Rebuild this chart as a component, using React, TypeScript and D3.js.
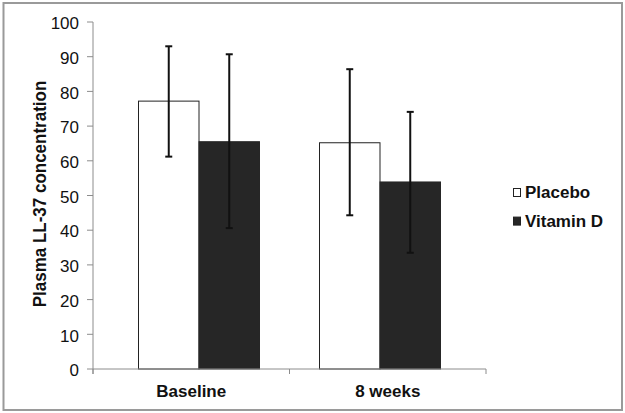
import React from "react";
import * as d3 from "d3";

const categories = ["Baseline", "8 weeks"];
const seriesNames = ["Placebo", "Vitamin D"];
const placeboMean = [77.2, 65.2];
const placeboLow = [61.2, 44.3];
const placeboHigh = [93.0, 86.4];
const vitdMean = [65.5, 53.9];
const vitdLow = [40.6, 33.5];
const vitdHigh = [90.7, 74.1];
const yTicks = [0, 10, 20, 30, 40, 50, 60, 70, 80, 90, 100];

const W = 625;
const H = 413;
const left = 93;
const right = 486;
const top = 22;
const bottom = 369;

export default function App() {
  const y = d3.scaleLinear().domain([0, 100]).range([bottom, top]);
  const xLabel = d3.scaleBand().domain(categories).range([left, right]).padding(0);
  const xGroup = d3
    .scaleBand()
    .domain(categories)
    .range([left, right])
    .paddingInner(0.3315)
    .paddingOuter(0.2514);
  const xSeries = d3.scaleBand().domain(seriesNames).range([0, xGroup.bandwidth()]).padding(0);
  const fills = ["#ffffff", "#262626"];
  const series = [
    { name: seriesNames[0], mean: placeboMean, low: placeboLow, high: placeboHigh },
    { name: seriesNames[1], mean: vitdMean, low: vitdLow, high: vitdHigh },
  ];
  const font = "Arial, 'Liberation Sans', sans-serif";
  const capW = 3.5;

  return (
    <div style={{ position: "fixed", left: 0, top: 0 }}>
      <svg width={W} height={H} style={{ display: "block", background: "#fff" }}>
        <rect x={3.5} y={3} width={618.5} height={407} fill="#fff" stroke="#9a9a9a" strokeWidth={2} />
        {/* y axis */}
        <line x1={left} x2={left} y1={top} y2={bottom + 5} stroke="#8c8c8c" strokeWidth={1} />
        {yTicks.map((t) => (
          <g key={t}>
            <line x1={left - 6} x2={left} y1={y(t)} y2={y(t)} stroke="#8c8c8c" strokeWidth={1} />
            <text
              transform={`translate(${left - 14},${y(t) + 7.2}) scale(1,0.95)`}
              textAnchor="end"
              fontFamily={font}
              fontSize={17}
              fill="#111"
            >
              {t}
            </text>
          </g>
        ))}
        {/* bars */}
        {series.map((s, si) =>
          categories.map((c, ci) => {
            const x0 = (xGroup(c) as number) + (xSeries(s.name) as number);
            const bw = xSeries.bandwidth();
            return (
              <rect
                key={s.name + c}
                x={x0}
                y={y(s.mean[ci])}
                width={bw}
                height={y(0) - y(s.mean[ci])}
                fill={fills[si]}
                stroke={si === 0 ? "#222" : "#262626"}
                strokeWidth={1}
              />
            );
          })
        )}
        {/* error bars */}
        {series.map((s) =>
          categories.map((c, ci) => {
            const cx = (xGroup(c) as number) + (xSeries(s.name) as number) + xSeries.bandwidth() / 2;
            return (
              <g key={"e" + s.name + c} stroke="#111" strokeWidth={2}>
                <line x1={cx} x2={cx} y1={y(s.high[ci])} y2={y(s.low[ci])} />
                <line x1={cx - capW} x2={cx + capW} y1={y(s.high[ci])} y2={y(s.high[ci])} />
                <line x1={cx - capW} x2={cx + capW} y1={y(s.low[ci])} y2={y(s.low[ci])} />
              </g>
            );
          })
        )}
        {/* x axis */}
        <line x1={left} x2={right} y1={bottom} y2={bottom} stroke="#8c8c8c" strokeWidth={1} />
        {[...categories.map((c) => xLabel(c) as number), right].map((xx, i) => (
          <line key={i} x1={xx} x2={xx} y1={bottom} y2={bottom + 5} stroke="#8c8c8c" strokeWidth={1} />
        ))}
        {categories.map((c) => (
          <text
            key={c}
            transform={`translate(${(xLabel(c) as number) + xLabel.bandwidth() / 2},397) scale(1,0.95)`}
            textAnchor="middle"
            fontFamily={font}
            fontWeight="bold"
            fontSize={17}
            fill="#111"
          >
            {c}
          </text>
        ))}
        {/* y title */}
        <text
          transform={`translate(46,194) rotate(-90) scale(1,1.1)`}
          textAnchor="middle"
          fontFamily={font}
          fontWeight="bold"
          fontSize={17}
          fill="#111"
        >
          Plasma LL-37 concentration
        </text>
        {/* legend */}
        {seriesNames.map((n, i) => (
          <g key={n} transform={`translate(513,${192.5 + i * 28.6})`}>
            <rect x={0.5} y={-4} width={7} height={8} fill={fills[i]} stroke="#222" strokeWidth={1} />
            <text
              transform={`translate(12,5.8) scale(1,0.95)`}
              fontFamily={font}
              fontWeight="bold"
              fontSize={17}
              fill="#111"
            >
              {n}
            </text>
          </g>
        ))}
      </svg>
    </div>
  );
}
